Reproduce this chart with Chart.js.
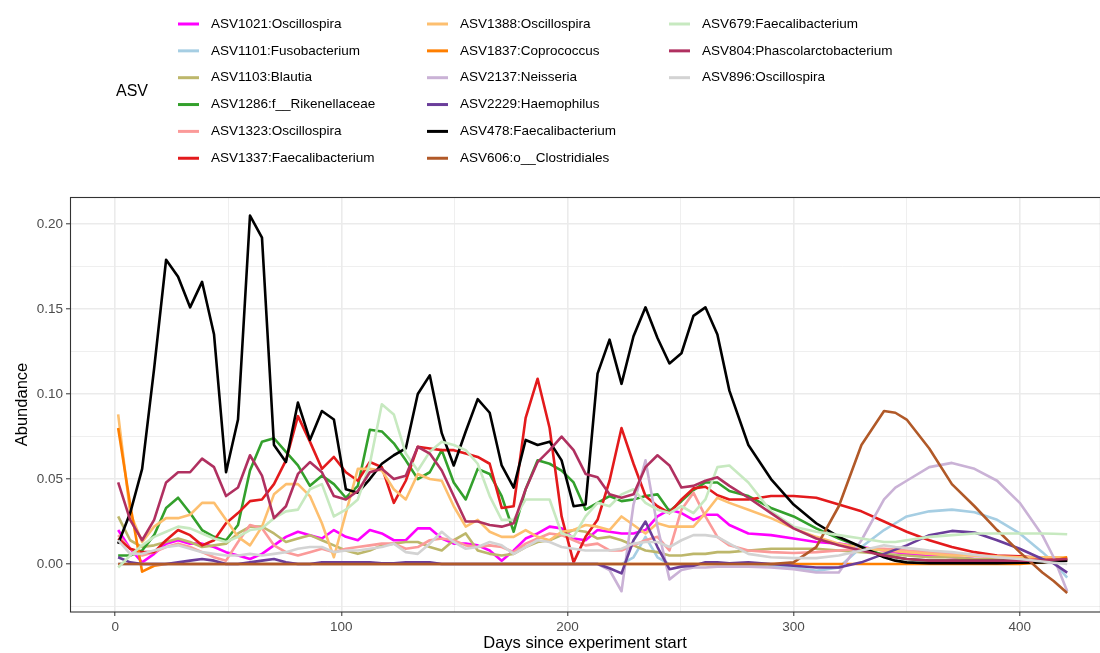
<!DOCTYPE html>
<html>
<head>
<meta charset="utf-8">
<script src="https://cdn.jsdelivr.net/npm/chart.js"></script>
<style>
  body { margin: 0; background: #fff; }
</style>
</head>
<body>
<canvas id="myChart" width="1100" height="653"></canvas>
<script>
// sampling days (regular visits, then the smooth tail)
const days = [
  1.3, 6.6, 11.9, 17.2, 22.5, 27.8, 33.1, 38.4, 43.7, 49.0,
  54.3, 59.6, 64.9, 70.2, 75.5, 80.8, 86.1, 91.4, 96.7, 102.0,
  107.3, 112.6, 117.9, 123.2, 128.5, 133.8, 139.1, 144.4, 149.7, 155.0,
  160.3, 165.6, 170.9, 176.2, 181.5, 186.8, 192.1, 197.4, 202.7, 208.0,
  213.3, 218.6, 223.9, 229.2, 234.5, 239.8, 245.1, 250.4, 255.7, 261.0,
  266.3, 271.6,
  280, 290, 300, 310, 320, 330, 340, 345, 350, 360, 370, 380, 390, 400, 410, 415, 421
];

const asvNames = [
  "ASV1021:Oscillospira", "ASV1101:Fusobacterium", "ASV1103:Blautia",
  "ASV1286:f__Rikenellaceae", "ASV1323:Oscillospira", "ASV1337:Faecalibacterium",
  "ASV1388:Oscillospira", "ASV1837:Coprococcus", "ASV2137:Neisseria",
  "ASV2229:Haemophilus", "ASV478:Faecalibacterium", "ASV606:o__Clostridiales",
  "ASV679:Faecalibacterium", "ASV804:Phascolarctobacterium", "ASV896:Oscillospira"
];

const asvColors = [
  "#ff00ff", "#a6cee3", "#bdb76b", "#33a02c", "#fb9a99", "#e31a1c",
  "#fdbf6f", "#ff7f00", "#cab2d6", "#6a3d9a", "#000000", "#b15928",
  "#c7e9c0", "#b03060", "#d3d3d3"
];

const asv1021 = [
  0.020, 0.009, 0.001, 0.006, 0.012, 0.014, 0.012, 0.012, 0.010, 0.007,
  0.005, 0.003, 0.006, 0.011, 0.016, 0.019, 0.017, 0.015, 0.020, 0.016,
  0.014, 0.020, 0.018, 0.014, 0.014, 0.021, 0.021, 0.015, 0.012, 0.012,
  0.011, 0.008, 0.002, 0.008, 0.015, 0.018, 0.022, 0.021, 0.015, 0.014,
  0.020, 0.019, 0.018, 0.018, 0.020, 0.028, 0.032, 0.030, 0.026, 0.029,
  0.029, 0.023,
  0.018, 0.017, 0.015, 0.013, 0.012, 0.010, 0.008, 0.007, 0.006, 0.005, 0.004, 0.003, 0.003, 0.003, 0.003, 0.003, 0.003
];
const asv1101 = [
  0, 0, 0, 0, 0, 0, 0, 0, 0, 0,
  0, 0, 0, 0, 0, 0, 0, 0, 0, 0,
  0, 0, 0, 0, 0, 0, 0, 0, 0, 0,
  0, 0, 0, 0, 0, 0, 0, 0, 0, 0,
  0, 0, 0, 0.004, 0.016, 0.004, 0, 0, 0, 0,
  0, 0,
  0, -0.001, -0.002, -0.004, -0.002, 0.010, 0.020, 0.024, 0.028, 0.031, 0.032, 0.0305, 0.026, 0.018, 0.007, 0.001, -0.008
];
const asv1103 = [
  0.028, 0.014, 0.010, 0.011, 0.013, 0.015, 0.013, 0.010, 0.011, 0.012,
  0.018, 0.022, 0.022, 0.018, 0.013, 0.015, 0.017, 0.014, 0.011, 0.008,
  0.006, 0.008, 0.011, 0.012, 0.013, 0.013, 0.010, 0.008, 0.014, 0.018,
  0.008, 0.006, 0.005, 0.006, 0.010, 0.013, 0.014, 0.017, 0.020, 0.019,
  0.015, 0.016, 0.014, 0.011, 0.008, 0.007, 0.005, 0.005, 0.006, 0.006,
  0.007, 0.007,
  0.008, 0.009, 0.009, 0.009, 0.008, 0.007, 0.006, 0.0055, 0.005, 0.004, 0.004, 0.003, 0.003, 0.003, 0.003, 0.003, 0.003
];
const asv1286 = [
  0.005, 0.005, 0.008, 0.017, 0.033, 0.039, 0.030, 0.020, 0.016, 0.014,
  0.023, 0.055, 0.072, 0.074, 0.066, 0.058, 0.046, 0.052, 0.047, 0.039,
  0.046, 0.079, 0.078, 0.071, 0.061, 0.050, 0.054, 0.067, 0.048, 0.038,
  0.056, 0.053, 0.040, 0.019, 0.044, 0.061, 0.059, 0.055, 0.048, 0.032,
  0.036, 0.040, 0.037, 0.038, 0.040, 0.041, 0.031, 0.037, 0.0435, 0.048,
  0.048, 0.043,
  0.040, 0.033, 0.028, 0.021, 0.015, 0.010, 0.005, 0.004, 0.003, 0.002, 0.002, 0.002, 0.002, 0.002, 0.002, 0.002, 0.002
];
const asv1323 = [
  0.017, 0.009, 0.005, 0.007, 0.010, 0.012, 0.010, 0.007, 0.004, 0.002,
  0.013, 0.023, 0.021, 0.011, 0.007, 0.005, 0.007, 0.009, 0.007, 0.009,
  0.010, 0.011, 0.012, 0.012, 0.009, 0.010, 0.014, 0.015, 0.014, 0.011,
  0.010, 0.011, 0.010, 0.007, 0.012, 0.015, 0.018, 0.017, 0.014, 0.011,
  0.012, 0.008, 0.008, 0.011, 0.014, 0.016, 0.008, 0.032, 0.042, 0.028,
  0.016, 0.011,
  0.008, 0.007, 0.0065, 0.007, 0.008, 0.009, 0.009, 0.0085, 0.008, 0.007, 0.006, 0.005, 0.004, 0.003, 0.003, 0.0025, 0.002
];
const asv1337 = [
  0.015, 0.009, 0.007, 0.007, 0.014, 0.020, 0.017, 0.011, 0.014, 0.024,
  0.030, 0.037, 0.038, 0.047, 0.061, 0.087, 0.072, 0.056, 0.063, 0.054,
  0.049, 0.060, 0.057, 0.036, 0.049, 0.069, 0.068, 0.067, 0.067, 0.065,
  0.063, 0.059, 0.033, 0.034, 0.086, 0.109, 0.080, 0.028, 0.001, 0.016,
  0.026, 0.049, 0.080, 0.059, 0.040, 0.034, 0.030, 0.038, 0.0445, 0.0455,
  0.0405, 0.038,
  0.038, 0.040, 0.040, 0.039, 0.035, 0.031, 0.025, 0.022, 0.019, 0.014, 0.010, 0.007, 0.005, 0.0045, 0.0035, 0.003, 0.0025
];
const asv1388 = [
  0.088, 0.030, 0.013, 0.022, 0.027, 0.027, 0.029, 0.036, 0.036, 0.026,
  0.016, 0.011, 0.022, 0.041, 0.047, 0.047, 0.040, 0.024, 0.004, 0.030,
  0.056, 0.056, 0.055, 0.044, 0.038, 0.053, 0.050, 0.049, 0.034, 0.022,
  0.026, 0.019, 0.016, 0.016, 0.020, 0.016, 0.014, 0.019, 0.020, 0.023,
  0.022, 0.020, 0.028, 0.023, 0.018, 0.024, 0.022, 0.022, 0.022, 0.030,
  0.039, 0.036,
  0.032, 0.027, 0.021, 0.016, 0.012, 0.0095, 0.008, 0.0075, 0.007, 0.006, 0.005, 0.005, 0.0045, 0.004, 0.004, 0.004, 0.004
];
const asv1837 = [
  0.080, 0.035, -0.0045, -0.001, 0, 0, 0, 0, 0, 0,
  0, 0, 0, 0, 0, 0, 0, 0, 0, 0,
  0, 0, 0, 0, 0, 0, 0, 0, 0, 0,
  0, 0, 0, 0, 0, 0, 0, 0, 0, 0,
  0, 0, 0, 0, 0, 0, 0, 0, 0, 0,
  0, 0,
  0, 0, 0, 0, 0, 0, 0, 0, 0, 0, 0, 0, 0, 0, 0.001, 0.002, 0.004
];
const asv2137 = [
  0, 0, 0, 0, 0, 0, 0, 0, 0, 0,
  0, 0, 0, 0, 0, 0, 0, 0, 0, 0,
  0, 0, 0, 0, 0, 0, 0, 0, 0, 0,
  0, 0, 0, 0, 0, 0, 0, 0, 0, 0,
  0, -0.0035, -0.016, 0.035, 0.061, 0.022, -0.009, -0.0035, -0.002, -0.002,
  -0.0015, -0.0015,
  -0.0015, -0.002, -0.003, -0.005, -0.005, 0.014, 0.038, 0.045, 0.049, 0.057, 0.0595, 0.056, 0.049, 0.036, 0.017, 0.004, -0.016
];
const asv2229 = [
  0.004, 0.001, 0, 0, 0, 0.001, 0.002, 0.003, 0.002, 0,
  0, 0.001, 0.002, 0.003, 0.001, 0, 0, 0.001, 0.001, 0.001,
  0.001, 0.001, 0.0005, 0.0005, 0.001, 0.001, 0.001, 0, 0, 0,
  0, 0, 0, 0, 0, 0, 0, 0, 0, 0,
  0, -0.0025, -0.0055, 0.014, 0.025, 0.010, -0.003, -0.0015, -0.001, 0.001,
  0.001, 0.0005,
  0.001, 0, -0.001, -0.002, -0.002, 0.001, 0.006, 0.0085, 0.011, 0.017, 0.0195, 0.0185, 0.014, 0.009, 0.003, 0.0004, -0.005
];
const asv478 = [
  0.012, 0.030, 0.056, 0.115, 0.179, 0.169, 0.151, 0.166, 0.135, 0.054,
  0.085, 0.205, 0.192, 0.070, 0.060, 0.095, 0.073, 0.090, 0.085, 0.044,
  0.042, 0.050, 0.059, 0.064, 0.068, 0.100, 0.111, 0.077, 0.058, 0.078,
  0.097, 0.089, 0.058, 0.045, 0.073, 0.070, 0.072, 0.061, 0.034, 0.035,
  0.112, 0.132, 0.106, 0.134, 0.151, 0.133, 0.118, 0.124, 0.146, 0.151,
  0.135, 0.102,
  0.070, 0.050, 0.035, 0.024, 0.016, 0.010, 0.004, 0.002, 0.001, 0.0005, 0.0005, 0.0005, 0.0005, 0.0008, 0.001, 0.0015, 0.002
];
const asv606 = [
  0, 0, 0, 0, 0, 0, 0, 0, 0, 0,
  0, 0, 0, 0, 0, 0, 0, 0, 0, 0,
  0, 0, 0, 0, 0, 0, 0, 0, 0, 0,
  0, 0, 0, 0, 0, 0, 0, 0, 0, 0,
  0, 0, 0, 0, 0, 0, 0, 0, 0, 0,
  0, 0,
  0, 0, 0.001, 0.010, 0.034, 0.070, 0.090, 0.089, 0.085, 0.068, 0.047, 0.034, 0.020, 0.007, -0.005, -0.010, -0.017
];
const asv679 = [
  -0.002, 0.005, 0.011, 0.016, 0.019, 0.022, 0.021, 0.018, 0.015, 0.013,
  0.016, 0.020, 0.021, 0.027, 0.031, 0.032, 0.044, 0.047, 0.028, 0.032,
  0.038, 0.059, 0.094, 0.088, 0.065, 0.055, 0.066, 0.072, 0.070, 0.067,
  0.059, 0.040, 0.026, 0.026, 0.038, 0.038, 0.038, 0.018, 0.016, 0.028,
  0.036, 0.034, 0.041, 0.044, 0.036, 0.032, 0.030, 0.034, 0.030, 0.038,
  0.057, 0.058,
  0.048, 0.031, 0.022, 0.019, 0.017, 0.015, 0.013, 0.013, 0.014, 0.016, 0.017, 0.018, 0.018, 0.018, 0.018, 0.0178, 0.0175
];
const asv804 = [
  0.048, 0.026, 0.014, 0.026, 0.048, 0.054, 0.054, 0.062, 0.057, 0.040,
  0.045, 0.064, 0.052, 0.027, 0.034, 0.053, 0.060, 0.054, 0.040, 0.038,
  0.043, 0.054, 0.056, 0.050, 0.052, 0.069, 0.065, 0.055, 0.040, 0.025,
  0.025, 0.023, 0.022, 0.024, 0.044, 0.060, 0.067, 0.075, 0.067, 0.053,
  0.051, 0.041, 0.039, 0.041, 0.057, 0.064, 0.058, 0.045, 0.046, 0.049,
  0.051, 0.046,
  0.039, 0.030, 0.021, 0.015, 0.011, 0.008, 0.005, 0.004, 0.003, 0.002, 0.002, 0.002, 0.002, 0.002, 0.002, 0.0025, 0.003
];
const asv896 = [
  0.014, 0.006, 0.006, 0.008, 0.010, 0.011, 0.009, 0.007, 0.006, 0.005,
  0.005, 0.006, 0.005, 0.006, 0.007, 0.009, 0.010, 0.010, 0.007, 0.008,
  0.008, 0.009, 0.010, 0.012, 0.007, 0.006, 0.012, 0.019, 0.013, 0.009,
  0.010, 0.013, 0.011, 0.006, 0.010, 0.014, 0.013, 0.010, 0.009, 0.008,
  0.008, 0.008, 0.009, 0.012, 0.013, 0.013, 0.010, 0.014, 0.017, 0.017,
  0.016, 0.012,
  0.006, 0.004, 0.0035, 0.0035, 0.005, 0.008, 0.011, 0.010, 0.0095, 0.008, 0.007, 0.0055, 0.004, 0.003, 0.0015, 0.0008, 0
];

const asvValues = [
  asv1021, asv1101, asv1103, asv1286, asv1323, asv1337, asv1388, asv1837,
  asv2137, asv2229, asv478, asv606, asv679, asv804, asv896
];

// axis ticks
const xTicks = [0, 100, 200, 300, 400];
const xGrid = [0, 50, 100, 150, 200, 250, 300, 350, 400];
const yTicks = [0, 0.05, 0.1, 0.15, 0.2];
const yTickLabels = ["0.00", "0.05", "0.10", "0.15", "0.20"];
const yGrid = [-0.025, 0, 0.025, 0.05, 0.075, 0.1, 0.125, 0.15, 0.175, 0.2];

const FONT = "'Liberation Sans', Arial, sans-serif";
const isXMajor = (v) => xTicks.includes(v);
const yIndex = (v) => yTicks.findIndex((t) => Math.abs(t - v) < 1e-9);

// ggplot-like legend in 3 columns, filled top to bottom
const legendPlugin = {
  id: "asvLegend",
  afterDraw(chart) {
    const c = chart.ctx;
    const colX = [178, 427, 669];
    c.save();
    c.textBaseline = "middle";
    c.fillStyle = "#000";
    c.font = "16px " + FONT;
    c.fillText("ASV", 116, 92);
    c.font = "13.5px " + FONT;
    asvNames.forEach((name, i) => {
      const x = colX[Math.floor(i / 6)];
      const y = 24 + (i % 6) * 26.85;
      c.strokeStyle = asvColors[i];
      c.lineWidth = 3;
      c.beginPath();
      c.moveTo(x, y);
      c.lineTo(x + 21, y);
      c.stroke();
      c.fillStyle = "#000";
      c.fillText(name, x + 33, y);
    });
    c.restore();
  }
};

// dark panel border like theme_bw
const borderPlugin = {
  id: "panelBorder",
  afterDatasetsDraw(chart) {
    const { left, top, right, bottom } = chart.chartArea;
    const c = chart.ctx;
    c.save();
    c.strokeStyle = "#333333";
    c.lineWidth = 1.1;
    c.strokeRect(left + 0.5, top + 0.5, right - left, bottom - top - 0.5);
    c.restore();
  }
};

const ctx = document.getElementById("myChart");

new Chart(ctx, {
  type: "line",
  data: {
    datasets: asvNames.map((name, i) => ({
      label: name,
      data: days.map((d, j) => ({ x: d, y: asvValues[i][j] })),
      borderColor: asvColors[i],
      backgroundColor: asvColors[i],
      borderWidth: 2.6,
      borderJoinStyle: "round",
      pointRadius: 0,
      tension: 0,
      fill: false,
      order: asvNames.length - i,
    })),
  },
  options: {
    responsive: false,
    animation: false,
    devicePixelRatio: 1,
    layout: { padding: { top: 197, left: 0, right: 0, bottom: 0 } },
    plugins: {
      legend: { display: false },
      tooltip: { enabled: false },
    },
    scales: {
      x: {
        type: "linear",
        min: -20,
        max: 435.5,
        afterBuildTicks: (scale) => {
          scale.ticks = xGrid.map((v) => ({ value: v }));
        },
        afterFit: (scale) => {
          scale.height = 41;
        },
        ticks: {
          autoSkip: false,
          maxRotation: 0,
          padding: 3,
          color: "#4d4d4d",
          font: { family: FONT, size: 13.5 },
          callback: (v) => (isXMajor(v) ? String(v) : ""),
        },
        grid: {
          color: "#ebebeb",
          lineWidth: (c) => (isXMajor(c.tick.value) ? 1.6 : 0.8),
          tickLength: 4,
          tickWidth: 1,
          tickColor: (c) => (isXMajor(c.tick.value) ? "#333333" : "rgba(0,0,0,0)"),
        },
        border: { display: false },
        title: {
          display: true,
          text: "Days since experiment start",
          color: "#000",
          font: { family: FONT, size: 16.5 },
          padding: { top: 0, bottom: 0 },
        },
      },
      y: {
        min: -0.0282,
        max: 0.2159,
        afterBuildTicks: (scale) => {
          scale.ticks = yGrid.map((v) => ({ value: v }));
        },
        afterFit: (scale) => {
          scale.width = 70;
        },
        ticks: {
          autoSkip: false,
          padding: 3,
          color: "#4d4d4d",
          font: { family: FONT, size: 13.5 },
          callback: (v) => {
            const i = yIndex(v);
            return i >= 0 ? yTickLabels[i] : "";
          },
        },
        grid: {
          color: "#ebebeb",
          lineWidth: (c) => (yIndex(c.tick.value) >= 0 ? 1.6 : 0.8),
          tickLength: 4,
          tickWidth: 1,
          tickColor: (c) => (yIndex(c.tick.value) >= 0 ? "#333333" : "rgba(0,0,0,0)"),
        },
        border: { display: false },
        title: {
          display: true,
          text: "Abundance",
          color: "#000",
          font: { family: FONT, size: 16.5 },
          padding: { top: 13, bottom: 0 },
        },
      },
    },
  },
  plugins: [legendPlugin, borderPlugin],
});
</script>
</body>
</html>
